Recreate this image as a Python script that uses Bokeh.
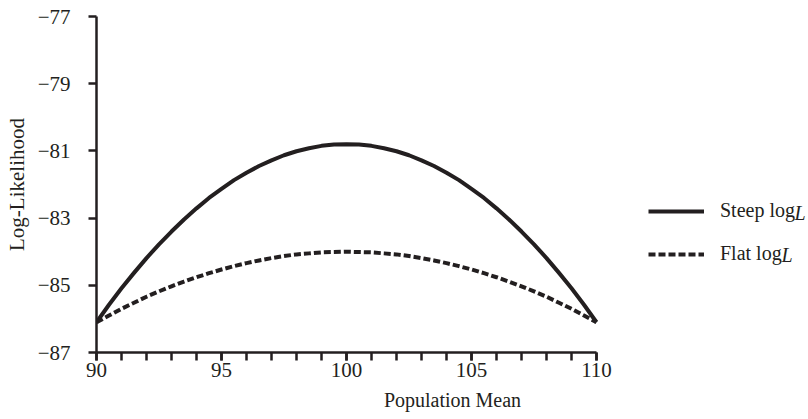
from bokeh.plotting import figure
from bokeh.models import Range1d, FixedTicker, Legend, LegendItem, Label
from bokeh.embed import file_html
from bokeh.resources import INLINE

# ---- data ----
population_mean = [90 + 0.5 * i for i in range(41)]
steep_logL = [-86.10, -85.58, -85.09, -84.63, -84.19, -83.78, -83.40, -83.04, -82.71, -82.40,
              -82.13, -81.87, -81.65, -81.45, -81.28, -81.13, -81.01, -80.92, -80.85, -80.81,
              -80.80,
              -80.81, -80.85, -80.92, -81.01, -81.13, -81.28, -81.45, -81.65, -81.87, -82.13,
              -82.40, -82.71, -83.04, -83.40, -83.78, -84.19, -84.63, -85.09, -85.58, -86.10]
flat_logL = [-86.10, -85.90, -85.70, -85.52, -85.34, -85.18, -85.03, -84.89, -84.76, -84.64,
             -84.53, -84.43, -84.34, -84.26, -84.19, -84.13, -84.08, -84.05, -84.02, -84.01,
             -84.00,
             -84.01, -84.02, -84.05, -84.08, -84.13, -84.19, -84.26, -84.34, -84.43, -84.53,
             -84.64, -84.76, -84.89, -85.03, -85.18, -85.34, -85.52, -85.70, -85.90, -86.10]
x_major_ticks = [90, 95, 100, 105, 110]
x_minor_ticks = list(range(90, 111))
x_axis_bounds = (90, 110)
y_ticks = [-87, -85, -83, -81, -79, -77]
y_tick_labels = ["\u221287", "\u221285", "\u221283", "\u221281", "\u221279", "\u221277"]
series_names = ["Steep log", "Flat log"]

INK = "#231f20"
FONT = "Liberation Serif"

# frame runs to the right edge so the legend (inside the frame) is not clipped;
# the x axis itself is bounded to 90..110
p = figure(width=808, height=419,
           x_range=Range1d(90, 118.48), y_range=Range1d(-87, -77),
           output_backend="svg", toolbar_location=None,
           min_border_left=96, min_border_right=0, min_border_top=16, min_border_bottom=67)
p.grid.visible = False
p.outline_line_color = None
p.background_fill_color = "white"

for ax in (p.xaxis[0], p.yaxis[0]):
    ax.axis_line_width = 2.5
    ax.axis_line_color = INK
    ax.major_tick_line_width = 2.5
    ax.major_tick_line_color = INK
    ax.minor_tick_line_width = 2.5
    ax.minor_tick_line_color = INK
    ax.major_tick_in = 0
    ax.major_tick_out = 8
    ax.minor_tick_in = 0
    ax.major_label_text_font = FONT
    ax.major_label_text_font_size = "21px"
    ax.major_label_text_color = INK
    ax.axis_label_text_font = FONT
    ax.axis_label_text_font_style = "normal"
    ax.axis_label_text_color = INK

xa = p.xaxis[0]
xa.bounds = x_axis_bounds
xa.ticker = FixedTicker(ticks=x_major_ticks, minor_ticks=x_minor_ticks)
xa.minor_tick_out = 8
xa.major_label_standoff = 2
xa.axis_label = "Population Mean"
xa.axis_label_text_font_size = "20px"
xa.axis_label_standoff = 9

ya = p.yaxis[0]
ya.ticker = FixedTicker(ticks=y_ticks, minor_ticks=[])
ya.minor_tick_out = 0
ya.major_label_overrides = dict(zip(y_ticks, y_tick_labels))
ya.major_label_standoff = 18
ya.axis_label = "Log-Likelihood"
ya.axis_label_text_font_size = "21px"
ya.axis_label_standoff = 6

r1 = p.line(population_mean, steep_logL, line_width=4, line_color=INK, line_join="round")
r2 = p.line(population_mean, flat_logL, line_width=4, line_color=INK, line_dash="7 3")

legend = Legend(items=[LegendItem(label=series_names[0], renderers=[r1]),
                       LegendItem(label=series_names[1], renderers=[r2])],
                location=(552, 87), orientation="vertical",
                glyph_width=56, glyph_height=20, label_height=20, label_standoff=16,
                spacing=20, padding=0, margin=0,
                border_line_color=None, background_fill_alpha=0,
                label_text_font=FONT, label_text_font_size="20px", label_text_color=INK)
p.add_layout(legend)

for yy, xx in ((140, 698), (98, 685)):
    p.add_layout(Label(x=xx, y=yy, x_units="screen", y_units="screen", text="L",
                       text_font=FONT, text_font_style="italic", text_font_size="20px",
                       text_color=INK, text_baseline="middle"))

open("out.html", "w").write(file_html(p, INLINE))
